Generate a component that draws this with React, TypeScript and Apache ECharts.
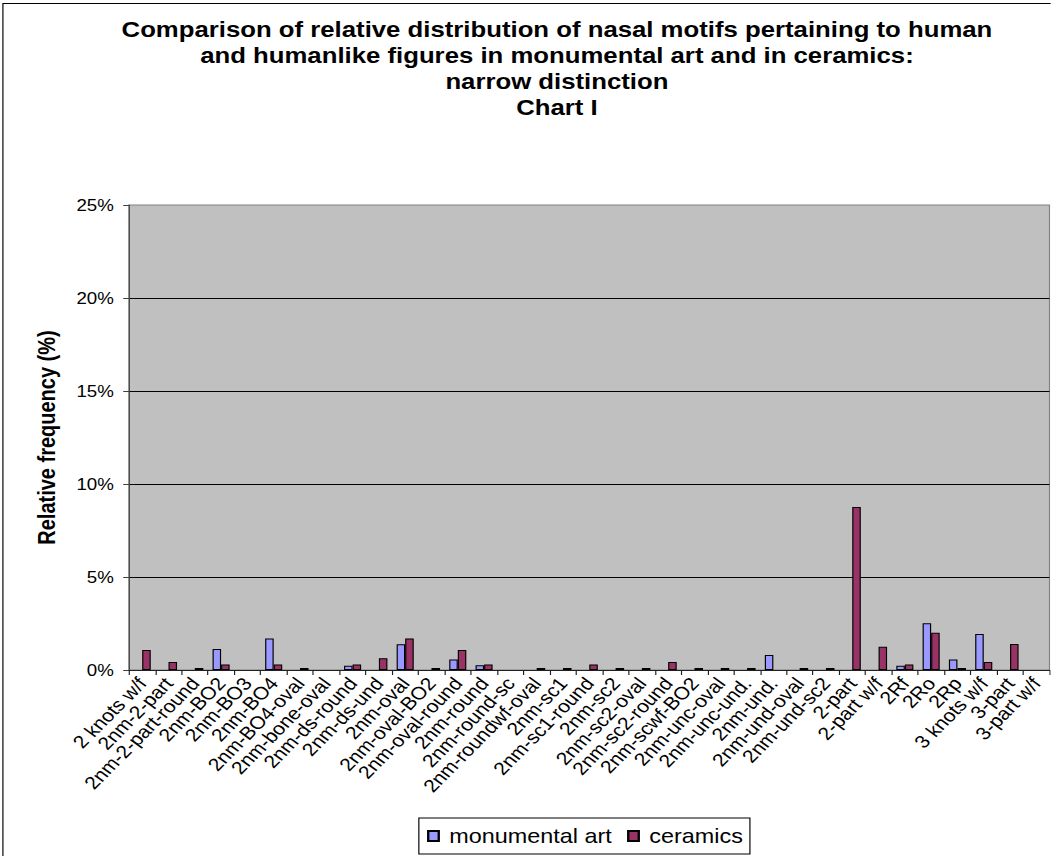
import React, { useEffect, useRef } from "react";
import * as echarts from "echarts";

const titleLines = [
  "Comparison of relative distribution of nasal motifs pertaining to human",
  "and humanlike figures in monumental art and in ceramics:",
  "narrow distinction",
  "Chart I",
];
const yAxisTitle = "Relative frequency (%)";
const seriesNames = ["monumental art", "ceramics"];

const categories = [
  "2 knots w/f", "2nm-2-part", "2nm-2-part-round", "2nm-BO2", "2nm-BO3",
  "2nm-BO4", "2nm-BO4-oval", "2nm-bone-oval", "2nm-ds-round", "2nm-ds-und",
  "2nm-oval", "2nm-oval-BO2", "2nm-oval-round", "2nm-round", "2nm-round-sc",
  "2nm-roundwf-oval", "2nm-sc1", "2nm-sc1-round", "2nm-sc2", "2nm-sc2-oval",
  "2nm-sc2-round", "2nm-scwf-BO2", "2nm-unc-oval", "2nm-unc-und.", "2nm-und.",
  "2nm-und-oval", "2nm-und-sc2", "2-part", "2-part w/f", "2Rf",
  "2Ro", "2Rp", "3 knots w/f", "3-part", "3-part w/f",
];

const monumentalArt = [
  0, 0, 0, 1.13, 0,
  1.7, 0, 0, 0.23, 0,
  1.38, 0, 0.57, 0.25, 0,
  0, 0, 0, 0, 0,
  0, 0, 0, 0, 0.81,
  0, 0, 0, 0, 0.23,
  2.51, 0.57, 1.94, 0, 0,
];

const ceramics = [
  1.08, 0.43, 0.11, 0.3, 0,
  0.3, 0.11, 0, 0.3, 0.63,
  1.7, 0.11, 1.08, 0.3, 0,
  0.11, 0.11, 0.3, 0.11, 0.11,
  0.43, 0.11, 0.11, 0.11, 0,
  0.11, 0.11, 8.76, 1.25, 0.3,
  2.0, 0.11, 0.43, 1.4, 0,
];

const yMin = 0;
const yMax = 25;
const yInterval = 5;

const SX = 1.17;
const W = 1051 / SX;
const H = 856;
const FONT = "'Liberation Sans', Arial, sans-serif";
// rotation in unstretched space that shows as 45 degrees after the horizontal stretch
const LABEL_ROTATE = (Math.atan(SX) * 180) / Math.PI;

export default function App() {
  const ref = useRef<HTMLDivElement>(null);

  useEffect(() => {
    if (!ref.current) return;
    const chart = echarts.init(ref.current, null, { renderer: "svg", width: W, height: H });
    const nz = (arr: number[]) => arr.map((v) => (v === 0 ? null : v));
    chart.setOption({
      animation: false,
      backgroundColor: "#ffffff",
      textStyle: { fontFamily: FONT },
      title: {
        text: titleLines.join("\n"),
        left: 471,
        top: 11,
        textAlign: "center",
        textStyle: {
          fontFamily: FONT,
          fontSize: 22,
          fontWeight: "bold",
          color: "#000",
          lineHeight: 26,
        },
      },
      graphic: [
        {
          type: "rect",
          shape: { x: 2.5, y: 3.5, width: 1200, height: 1200 },
          style: { fill: "none", stroke: "#000", lineWidth: 1 },
          silent: true,
          z: -1,
        },
        {
          type: "text",
          x: 40,
          y: 437.5,
          rotation: Math.PI / 2,
          style: {
            text: yAxisTitle,
            font: `bold 20px ${FONT}`,
            fill: "#000",
            align: "center",
            verticalAlign: "middle",
          },
        },
      ],
      legend: {
        data: seriesNames,
        left: 358,
        top: 818,
        orient: "horizontal",
        icon: "rect",
        itemWidth: 9,
        itemHeight: 10,
        itemGap: 13,
        borderColor: "#000",
        borderWidth: 1,
        padding: [8, 6, 8, 7],
        textStyle: {
          fontFamily: FONT,
          fontSize: 20,
          color: "#000",
          padding: [0, 0, 0, 4],
        },
      },
      grid: {
        left: 110.3,
        right: W - 897,
        top: 205,
        bottom: H - 670,
        show: true,
        backgroundColor: "#C0C0C0",
        borderColor: "#808080",
        borderWidth: 1,
        containLabel: false,
      },
      xAxis: {
        type: "category",
        data: categories,
        axisLine: { show: true, lineStyle: { color: "#202020", width: 1 } },
        axisTick: { show: true, inside: false, length: 5, lineStyle: { color: "#202020" } },
        axisLabel: {
          interval: 0,
          rotate: LABEL_ROTATE,
          margin: 10,
          fontFamily: FONT,
          fontSize: 18,
          color: "#000",
        },
      },
      yAxis: {
        type: "value",
        min: yMin,
        max: yMax,
        interval: yInterval,
        axisLine: { show: true, lineStyle: { color: "#404040", width: 1 } },
        axisTick: { show: true, inside: false, length: 5, lineStyle: { color: "#404040" } },
        axisLabel: {
          formatter: "{value}%",
          margin: 13,
          fontFamily: FONT,
          fontSize: 16,
          color: "#000",
        },
        splitLine: {
          show: true,
          showMinLine: false,
          showMaxLine: false,
          lineStyle: { color: "#000", width: 1 },
        },
      },
      series: [
        {
          name: seriesNames[0],
          type: "bar",
          data: nz(monumentalArt),
          barWidth: 7.3,
          barGap: "0%",
          itemStyle: { color: "#9999FF", borderColor: "#000", borderWidth: 1 },
        },
        {
          name: seriesNames[1],
          type: "bar",
          data: nz(ceramics),
          barWidth: 7.3,
          barGap: "0%",
          itemStyle: { color: "#993366", borderColor: "#000", borderWidth: 1 },
        },
      ],
    });
    return () => chart.dispose();
  }, []);

  return (
    <div
      style={{
        position: "fixed",
        left: 0,
        top: 0,
        width: 1051,
        height: 856,
        overflow: "hidden",
        background: "#fff",
      }}
    >
      <div
        ref={ref}
        style={{
          width: W,
          height: H,
          transform: `scaleX(${SX})`,
          transformOrigin: "0 0",
        }}
      />
    </div>
  );
}
